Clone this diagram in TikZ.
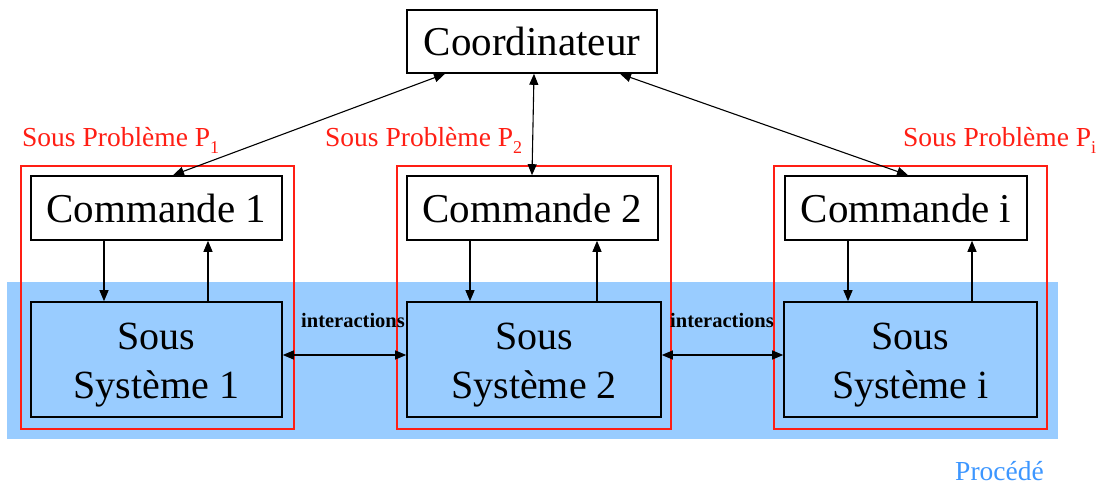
\documentclass[tikz,border=0pt]{standalone}
\usepackage{fontspec}
\setmainfont{Liberation Serif}
\usetikzlibrary{arrows.meta,calc}
\definecolor{procblue}{RGB}{153,204,255}
\definecolor{proctext}{RGB}{60,150,255}
\definecolor{probred}{RGB}{255,30,20}
\newcommand{\psub}[1]{\raisebox{-7pt}{\fontsize{18}{18}\selectfont #1}}
\begin{document}
\begin{tikzpicture}[x=1pt,y=-1pt,
  box/.style={draw=black,line width=1.6pt,inner sep=0pt,minimum height=64pt,
    font=\fontsize{41}{49}\selectfont},
  ssbox/.style={draw=black,line width=1.6pt,fill=procblue,inner sep=0pt,
    minimum height=115pt,align=center,font=\fontsize{40}{49}\selectfont},
  redbox/.style={draw=probred,line width=1.4pt},
  arr/.style={line width=1.1pt,-{Triangle[length=11pt,width=9pt]}},
  darr/.style={line width=1.1pt,{Triangle[length=11pt,width=9pt]}-{Triangle[length=11pt,width=9pt]}},
  plabel/.style={text=probred,anchor=base west,inner sep=0pt,font=\fontsize{27.5}{30}\selectfont},
  ilabel/.style={anchor=base west,inner sep=0pt,font=\bfseries\fontsize{20.5}{22}\selectfont}
]
\useasboundingbox (0,0) rectangle (1106,486);
% process band
\fill[procblue] (7,282) rectangle (1058,439);
% sub-problem frames
\draw[redbox] (21,166) rectangle (294,429);
\draw[redbox] (397,166) rectangle (671,429);
\draw[redbox] (774,166) rectangle (1047,429);
% nodes
\node[box,minimum width=250pt,minimum height=63pt] (coord) at (532,41.5) {Coordinateur};
\node[box,minimum width=251pt] (cmd1) at (156.5,208) {Commande 1};
\node[box,minimum width=251pt] (cmd2) at (532.5,208) {Commande 2};
\node[box,minimum width=242pt] (cmdi) at (906,208) {Commande i};
\node[ssbox,minimum width=251pt] (ss1) at (156.5,359.5) {\rule{0pt}{38pt}Sous\\Système 1};
\node[ssbox,minimum width=254pt] (ss2) at (534,359.5) {\rule{0pt}{38pt}Sous\\Système 2};
\node[ssbox,minimum width=253pt] (ssi) at (910.5,359.5) {\rule{0pt}{38pt}Sous\\Système i};
% labels
\node[plabel] (p1) at (22,147) {Sous Problème P\psub{1}};
\node[plabel] (p2) at (325,147) {Sous Problème P\psub{2}};
\node[plabel] (pi) at (903,147) {Sous Problème P\psub{i}};
\node[ilabel] (int1) at (301,327) {interactions};
\node[ilabel] (int2) at (670,327) {interactions};
\node[anchor=base west,inner sep=0pt,text=proctext,font=\fontsize{27.5}{30}\selectfont] (proc) at (955,480) {Procédé};
% coordinator links
\draw[darr] ([xshift=-87pt]coord.south) -- ([xshift=16.5pt]cmd1.north);
\draw[darr] ([xshift=2pt]coord.south) -- ([xshift=-0.5pt]cmd2.north);
\draw[darr] ([xshift=88pt]coord.south) -- ([xshift=2pt]cmdi.north);
% command / subsystem links
\draw[arr] ([xshift=-52.5pt]cmd1.south) -- ([xshift=-52.5pt]ss1.north);
\draw[arr] ([xshift=51.5pt]ss1.north) -- ([xshift=51.5pt]cmd1.south);
\draw[arr] ([xshift=-62.5pt]cmd2.south) -- ([xshift=-64pt]ss2.north);
\draw[arr] ([xshift=63pt]ss2.north) -- ([xshift=64.5pt]cmd2.south);
\draw[arr] ([xshift=-58pt]cmdi.south) -- ([xshift=-62.5pt]ssi.north);
\draw[arr] ([xshift=61.5pt]ssi.north) -- ([xshift=66pt]cmdi.south);
% interactions
\draw[darr] ([yshift=4.5pt]ss1.east) -- ([yshift=4.5pt]ss2.west);
\draw[darr] ([yshift=4.5pt]ss2.east) -- ([yshift=4.5pt]ssi.west);
\end{tikzpicture}
\end{document}
